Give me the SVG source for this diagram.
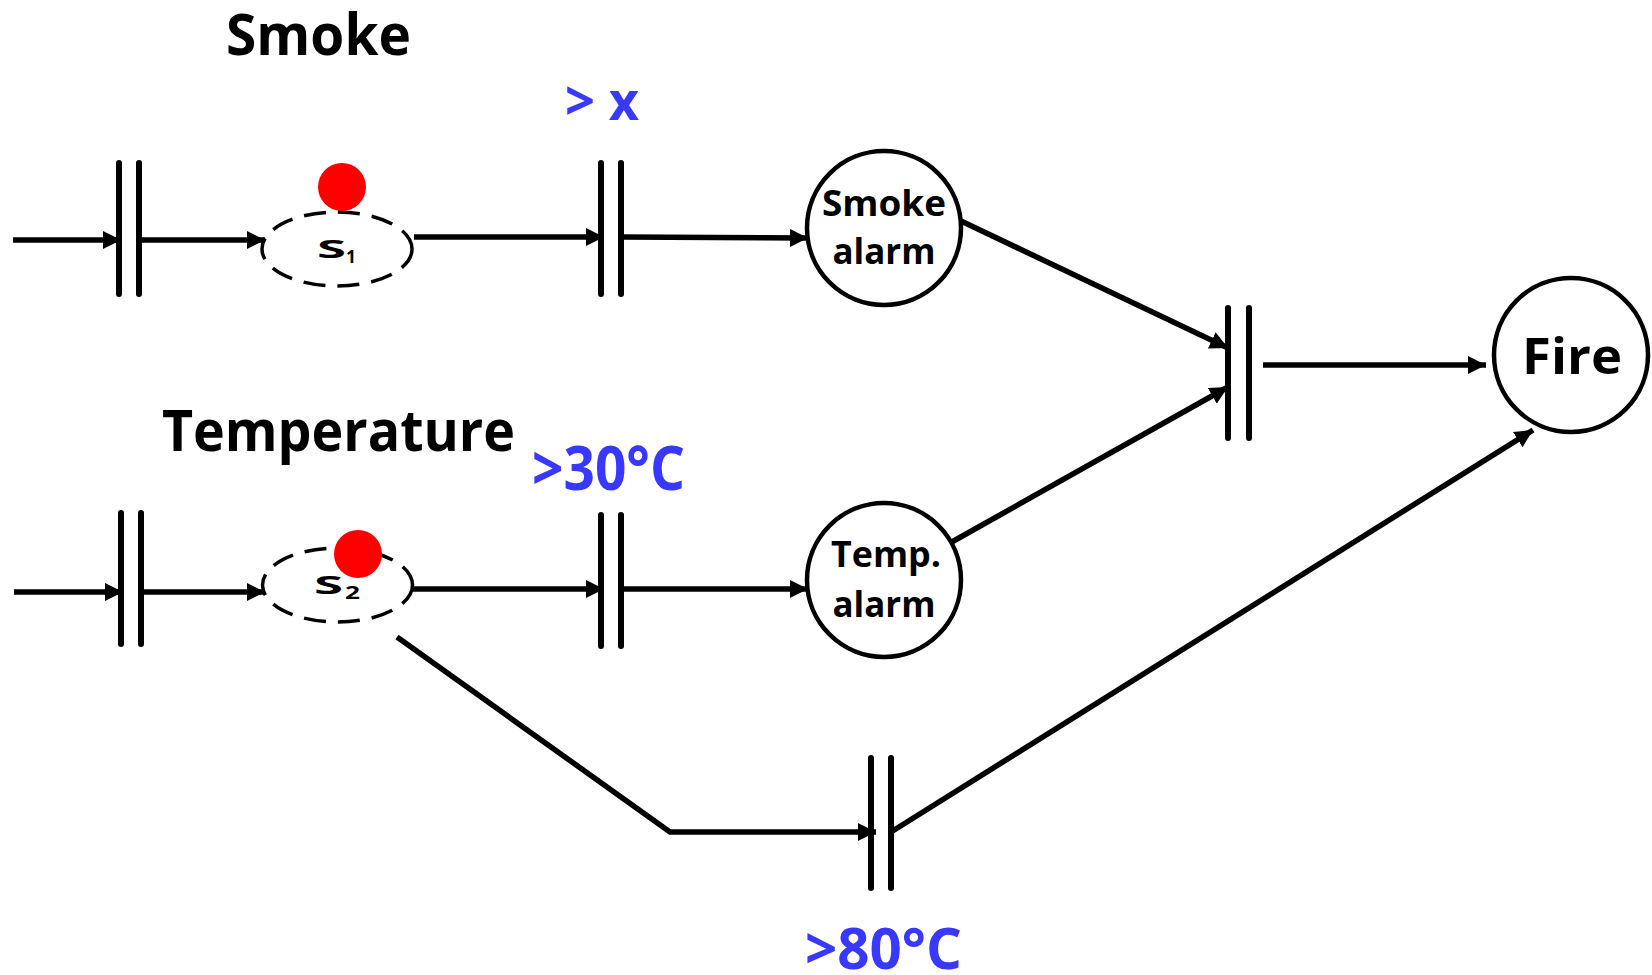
<svg xmlns="http://www.w3.org/2000/svg" width="1652" height="975" viewBox="0 0 1652 975">
<style>
text{font-family:"Open Sans","Lato","Liberation Sans",sans-serif;font-weight:bold;}
.lbl{fill:#000;}
.blue{fill:#3838ff;}
.bar{stroke:#000;stroke-width:6;stroke-linecap:round;fill:none;}
.arc{stroke:#000;stroke-width:5.5;fill:none;}
.place{stroke:#000;stroke-width:4.5;fill:#fff;}
.dplace{stroke:#000;stroke-width:3.5;fill:#fff;stroke-dasharray:22 12;}
.tok{fill:#ff0000;}
</style>
<defs>
<marker id="ah" markerUnits="userSpaceOnUse" markerWidth="22" markerHeight="22" refX="18" refY="9" orient="auto">
<path d="M0,0 L18,9 L0,18 z" fill="#000"/>
</marker>
</defs>
<rect width="1652" height="975" fill="#fff"/>

<g id="connectors">
<path class="arc" d="M13,240 L121,240" marker-end="url(#ah)"/>
<path class="arc" d="M139,240 L265,240" marker-end="url(#ah)"/>
<path class="arc" d="M414,237 L604,237" marker-end="url(#ah)"/>
<path class="arc" d="M621,237 L808,238" marker-end="url(#ah)"/>
<path class="arc" d="M14,592 L123,592" marker-end="url(#ah)"/>
<path class="arc" d="M141,592 L265,592" marker-end="url(#ah)"/>
<path class="arc" d="M413,589 L604,589" marker-end="url(#ah)"/>
<path class="arc" d="M621,589 L808,589" marker-end="url(#ah)"/>
<path class="arc" d="M397,637 L670,832 L876,832" marker-end="url(#ah)"/>
<path class="arc" d="M891,832 L1533,430" marker-end="url(#ah)"/>
<path class="arc" d="M961,221 L1228,348" marker-end="url(#ah)"/>
<path class="arc" d="M950,543 L1228,387" marker-end="url(#ah)"/>
<path class="arc" d="M1263,365 L1486,365" marker-end="url(#ah)"/>
</g>

<g id="t1"><line class="bar" x1="119" y1="163" x2="119" y2="294"/><line class="bar" x1="139" y1="163" x2="139" y2="294"/></g>
<g id="t2"><line class="bar" x1="601" y1="163" x2="601" y2="294"/><line class="bar" x1="621" y1="163" x2="621" y2="294"/></g>
<g id="t3"><line class="bar" x1="121" y1="513" x2="121" y2="644"/><line class="bar" x1="141" y1="513" x2="141" y2="644"/></g>
<g id="t4"><line class="bar" x1="601" y1="515" x2="601" y2="646"/><line class="bar" x1="621" y1="515" x2="621" y2="646"/></g>
<g id="t5"><line class="bar" x1="871" y1="758" x2="871" y2="888"/><line class="bar" x1="891" y1="758" x2="891" y2="888"/></g>
<g id="t6"><line class="bar" x1="1228" y1="308" x2="1228" y2="438"/><line class="bar" x1="1249" y1="308" x2="1249" y2="438"/></g>

<g id="s1">
<ellipse class="dplace" cx="337" cy="249" rx="75" ry="37"/>
<text class="lbl" x="317" y="258" font-size="25" textLength="29" lengthAdjust="spacingAndGlyphs">S</text>
<text class="lbl" x="346" y="263" font-size="17" textLength="10" lengthAdjust="spacingAndGlyphs">1</text>
<circle class="tok" cx="342" cy="187" r="24"/>
</g>
<g id="s2">
<ellipse class="dplace" cx="337.5" cy="585" rx="75" ry="37"/>
<text class="lbl" x="314" y="594" font-size="25" textLength="29" lengthAdjust="spacingAndGlyphs">S</text>
<text class="lbl" x="345" y="599" font-size="17" textLength="15" lengthAdjust="spacingAndGlyphs">2</text>
<circle class="tok" cx="358" cy="554" r="24"/>
</g>
<g id="smoke-alarm">
<circle class="place" cx="884" cy="228" r="77"/>
<text class="lbl" x="884" y="216" font-size="36" text-anchor="middle" textLength="124" lengthAdjust="spacingAndGlyphs">Smoke</text>
<text class="lbl" x="884" y="264" font-size="36" text-anchor="middle" textLength="103" lengthAdjust="spacingAndGlyphs">alarm</text>
</g>
<g id="temp-alarm">
<circle class="place" cx="884" cy="580" r="77"/>
<text class="lbl" x="886" y="567" font-size="36" text-anchor="middle" textLength="110" lengthAdjust="spacingAndGlyphs">Temp.</text>
<text class="lbl" x="884" y="617" font-size="36" text-anchor="middle" textLength="103" lengthAdjust="spacingAndGlyphs">alarm</text>
</g>
<g id="fire">
<circle class="place" cx="1571" cy="355" r="77"/>
<text class="lbl" x="1572" y="374" font-size="50" text-anchor="middle" textLength="100" lengthAdjust="spacingAndGlyphs">Fire</text>
</g>

<g id="labels">
<text class="lbl" x="226" y="55" font-size="57" textLength="185" lengthAdjust="spacingAndGlyphs">Smoke</text>
<text class="lbl" x="162" y="451" font-size="58" textLength="353" lengthAdjust="spacingAndGlyphs">Temperature</text>
<text class="blue" x="565" y="120" font-size="54" textLength="74" lengthAdjust="spacingAndGlyphs">&gt; x</text>
<text class="blue" x="532" y="490" font-size="60" textLength="153" lengthAdjust="spacingAndGlyphs">&gt;30°C</text>
<text class="blue" x="805" y="969" font-size="58" textLength="157" lengthAdjust="spacingAndGlyphs">&gt;80°C</text>
</g>
</svg>
